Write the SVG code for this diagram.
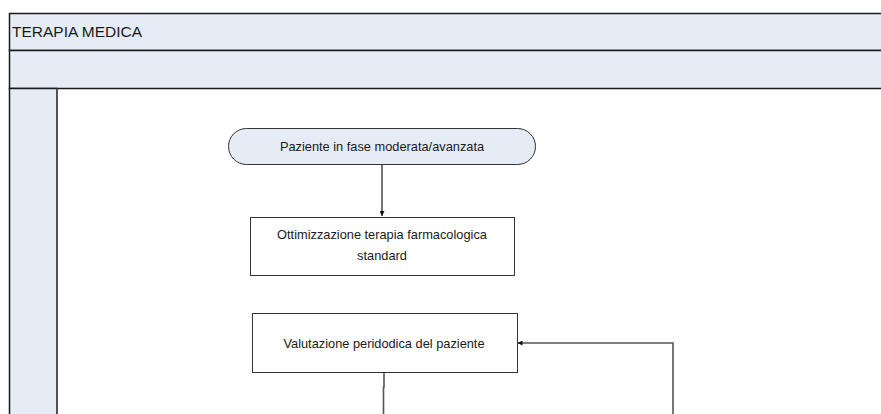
<svg xmlns="http://www.w3.org/2000/svg" width="881" height="414" viewBox="0 0 881 414">
  <style>
    .band { fill: #e5ecf6; stroke: #1a1a1a; stroke-width: 1.5; }
    .lane { fill: #e5ecf6; stroke: #1a1a1a; stroke-width: 1.5; }
    .node { fill: #ffffff; stroke: #333333; stroke-width: 1; }
    .term { fill: #e5ecf6; stroke: #333333; stroke-width: 1; }
    .lbl { font-family: "Liberation Sans", Arial, sans-serif; font-size: 12.8px; fill: #1a1a1a; text-anchor: middle; }
    .title { font-family: "Liberation Sans", Arial, sans-serif; font-size: 15.5px; fill: #1a1a1a; }
    .conn { fill: none; stroke: #555555; stroke-width: 1.6; }
  </style>
  <defs>
    <marker id="arrow" viewBox="0 0 10 10" refX="10" refY="5" markerWidth="5" markerHeight="5" orient="auto" markerUnits="userSpaceOnUse">
      <path d="M0,0 L10,5 L0,10 z" fill="#111111"/>
    </marker>
  </defs>

  <rect width="881" height="414" fill="#ffffff"/>

  <!-- pool header and lanes -->
  <g id="pool">
    <rect class="band" x="9.5" y="13.5" width="880" height="37"/>
    <text class="title" x="12" y="37">TERAPIA MEDICA</text>
    <rect class="band" x="9.5" y="50.5" width="880" height="38"/>
    <rect class="lane" x="9.5" y="88.5" width="47.5" height="340"/>
    <line x1="57" y1="88.5" x2="57" y2="414" stroke="#555555" stroke-width="1.5"/>
  </g>

  <g id="connectors">
    <line class="conn" x1="382" y1="164" x2="382" y2="216" marker-end="url(#arrow)"/>
    <polyline class="conn" points="384,372 384,387 383.5,387 383.5,414"/>
    <polyline class="conn" points="673,414 673,343 517.5,343" marker-end="url(#arrow)"/>
  </g>

  <g id="start">
    <rect class="term" x="228.5" y="128.5" width="307" height="36" rx="18" ry="18"/>
    <text class="lbl" x="382" y="151">Paziente in fase moderata/avanzata</text>
  </g>

  <g id="ottimizzazione">
    <rect class="node" x="250.5" y="217.5" width="264" height="58"/>
    <text class="lbl" x="382" y="239">Ottimizzazione terapia farmacologica</text>
    <text class="lbl" x="382" y="260">standard</text>
  </g>

  <g id="valutazione">
    <rect class="node" x="252.5" y="313.5" width="265" height="59"/>
    <text class="lbl" x="384" y="348">Valutazione peridodica del paziente</text>
  </g>
</svg>
